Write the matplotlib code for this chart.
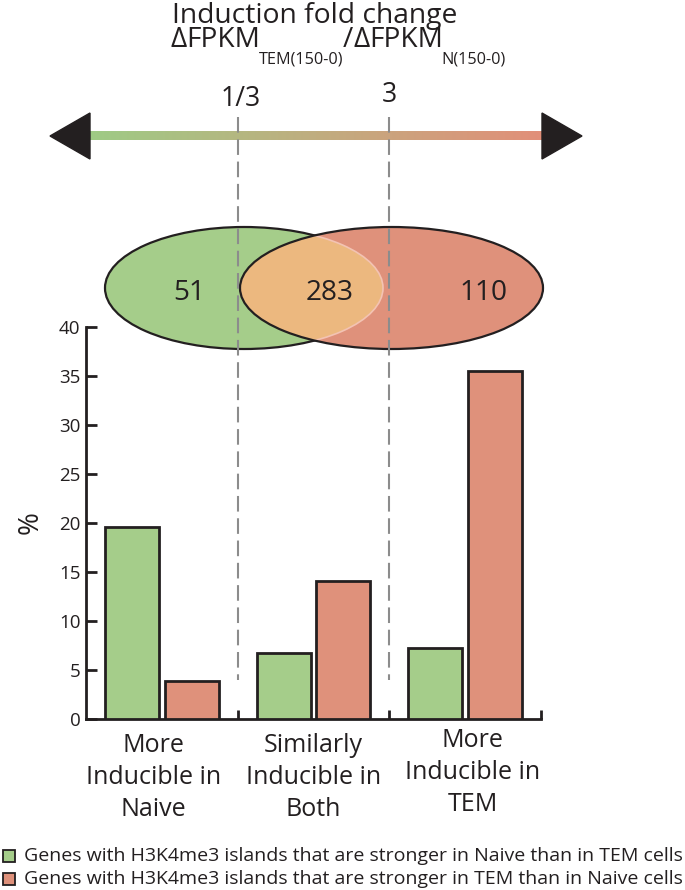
import matplotlib
matplotlib.use('Agg')
import matplotlib.pyplot as plt
import numpy as np
from matplotlib.patches import Ellipse, Polygon, Rectangle
from matplotlib.colors import to_rgb

FAM = ['Open Sans', 'DejaVu Sans']
plt.rcParams['font.family'] = FAM

# ---------------- data ----------------
categories = [['More', 'Inducible in', 'Naive'],
              ['Similarly', 'Inducible in', 'Both'],
              ['More', 'Inducible in', 'TEM']]
naive_pct = [19.6, 6.7, 7.2]
tem_pct = [3.9, 14.1, 35.5]
yticks = [0, 5, 10, 15, 20, 25, 30, 35, 40]
venn_counts = ['51', '283', '110']
thresholds = ['1/3', '3']
legend_labels = ['Genes with H3K4me3 islands that are stronger in Naive than in TEM cells',
                 'Genes with H3K4me3 islands that are stronger in TEM than in Naive cells']
title1 = 'Induction fold change'
title2 = [('\u0394', 'main'), ('FPKM', 'main'), ('TEM(150-0)', 'sub'),
          ('/', 'main'), ('\u0394', 'main'), ('FPKM', 'main'), ('N(150-0)', 'sub')]

GREEN = '#a5cd8a'
SALMON = '#df917b'
ORANGE = '#ecb87f'
DARK = '#231f20'
GRAY = '#8c8c8c'

W, H = 685, 890
fig = plt.figure(figsize=(W / 100, H / 100), dpi=100)
ov = fig.add_axes([0, 0, 1, 1])
ov.axis('off')
ov.set_xlim(0, W)
ov.set_ylim(H, 0)

# bar axes
ax_l, ax_r, ax_top, ax_bot = 86, 541, 327, 719
ax = fig.add_axes([ax_l / W, (H - ax_bot) / H, (ax_r - ax_l) / W, (ax_bot - ax_top) / H])
ax.patch.set_visible(False)

x = np.arange(len(naive_pct))
bw, off = 0.355, 0.197
ax.bar(x - off, naive_pct, bw, color=GREEN, edgecolor=DARK, linewidth=2.0, zorder=3)
ax.bar(x + off, tem_pct, bw, color=SALMON, edgecolor=DARK, linewidth=2.0, zorder=3)
ax.set_xlim(-0.5, 2.5)
ax.set_ylim(0, 40)
ax.set_yticks(yticks)
ax.set_yticklabels([str(t) for t in yticks], fontsize=13.5, color=DARK)
ax.tick_params(axis='y', direction='in', length=8, width=2, pad=4, colors=DARK)
ax.set_xticks([0.5, 1.5, 2.5])
ax.set_xticklabels([])
ax.tick_params(axis='x', direction='in', length=6.5, width=2, colors=DARK)
for s in ['top', 'right']:
    ax.spines[s].set_visible(False)
for s in ['left', 'bottom']:
    ax.spines[s].set_linewidth(2)
    ax.spines[s].set_color(DARK)
ax.set_ylabel('%', fontsize=20, color=DARK, labelpad=10)

renderer = fig.canvas.get_renderer()


def px(t):
    return t.get_window_extent(renderer).width


def fit(t, width):
    fs = t.get_fontsize()
    t.set_fontsize(fs * width / px(t))
    return t.get_fontsize()


# category labels
lab_dx = [-0.055, 0.0, 0.05]
lab_dy = [0, 0, -5]
tmp = ov.text(0, 0, 'Inducible in', fontsize=18)
cat_fs = fit(tmp, 135)
tmp.remove()
for i, lines in enumerate(categories):
    xp = ax_l + (x[i] + lab_dx[i] + 0.5) / 3.0 * (ax_r - ax_l)
    for j, line in enumerate(lines):
        ov.text(xp, 752 + 32 * j + lab_dy[i], line, ha='center', va='baseline',
                fontsize=cat_fs, color=DARK)

# arrow with gradient
c0 = np.array(to_rgb('#9ecb85'))
c1 = np.array(to_rgb('#e28f79'))
frac = np.linspace(0, 1, 256)
grad = (c0[None, :] * (1 - frac[:, None]) + c1[None, :] * frac[:, None])[None, :, :]
ov.imshow(grad, extent=[88, 544, 140.5, 131.5], aspect='auto', zorder=2)
ov.add_patch(Polygon([[50, 136], [90, 113], [90, 159]], closed=True, color=DARK, zorder=3))
ov.add_patch(Polygon([[542, 113], [542, 159], [582, 136]], closed=True, color=DARK, zorder=3))
ov.set_xlim(0, W)
ov.set_ylim(H, 0)

# Venn
gE = Ellipse((244, 288), 278, 122, facecolor=GREEN, edgecolor=DARK, linewidth=1.6, zorder=2)
ov.add_patch(gE)
rE = Ellipse((391.5, 288), 303, 122, facecolor=SALMON, edgecolor='none', zorder=2.1)
ov.add_patch(rE)
inter = Ellipse((391.5, 288), 303, 122, facecolor=ORANGE, edgecolor='none', zorder=2.2)
ov.add_patch(inter)
inter.set_clip_path(gE)
pale = Ellipse((244, 288), 278, 122, facecolor='none', edgecolor='#f3c3b3', linewidth=1.2, zorder=2.3)
ov.add_patch(pale)
pale.set_clip_path(rE)
ov.add_patch(Ellipse((391.5, 288), 303, 122, facecolor='none', edgecolor=DARK, linewidth=1.6, zorder=2.4))
tmp = ov.text(0, 0, '283', fontsize=20)
venn_fs = fit(tmp, 48)
tmp.remove()
for txt, xp in zip(venn_counts, [189, 330, 483]):
    ov.text(xp, 300, txt, ha='center', va='baseline', fontsize=venn_fs, color=DARK, zorder=5)

# dashed threshold lines
for k, (lab, xd) in enumerate(zip(thresholds, [0.5, 1.5])):
    xp = ax_l + (xd + 0.5) / 3.0 * (ax_r - ax_l)
    ov.plot([xp, xp], [117, 680], color=GRAY, lw=1.5, linestyle=(0, (7.5, 3.2)), zorder=6)
    ov.text(xp + (3 if k == 0 else 0), 106 if k == 0 else 102, lab, ha='center', va='baseline',
            fontsize=venn_fs * 0.95, color=DARK)

# title line 1
t1 = ov.text(314.5, 22.5, title1, ha='center', va='baseline', fontsize=20, color=DARK)
fit(t1, 285)
# title line 2: built from pieces with subscripts
tmpa = ov.text(0, 0, '\u0394', fontsize=20)
tmpb = ov.text(0, 0, 'FPKM', fontsize=20)
main_fs = 20 * 90 / (px(tmpa) + px(tmpb))
tmpa.remove(); tmpb.remove()
tmp = ov.text(0, 0, 'TEM(150-0)', fontsize=13)
sub_fs = fit(tmp, 84)
tmp.remove()
pieces = []
for s, kind in title2:
    if kind == 'main':
        t = ov.text(0, 47, s, ha='left', va='baseline', fontsize=main_fs, color=DARK)
    else:
        t = ov.text(0, 64, s, ha='left', va='baseline', fontsize=sub_fs, color=DARK)
    pieces.append((t, kind))
total = sum(px(t) for t, _ in pieces)
xc = 340 - total / 2
prev = None
for t, kind in pieces:
    if prev == 'main' and kind == 'sub':
        xc -= 2
    t.set_x(xc)
    xc += px(t)
    prev = kind

# legend
tmp = ov.text(0, 0, legend_labels[0], fontsize=12)
leg_fs = fit(tmp, 656)
tmp.remove()
for k, (lab, col) in enumerate(zip(legend_labels, [GREEN, SALMON])):
    yc = 856 + 23 * k
    ov.add_patch(Rectangle((3, yc - 6), 12, 12, facecolor=col, edgecolor=DARK, linewidth=1.3))
    ov.text(24, yc + 5, lab, ha='left', va='baseline', fontsize=leg_fs, color=DARK)

ov.set_xlim(0, W)
ov.set_ylim(H, 0)

fig.savefig('out.png', dpi=100)
